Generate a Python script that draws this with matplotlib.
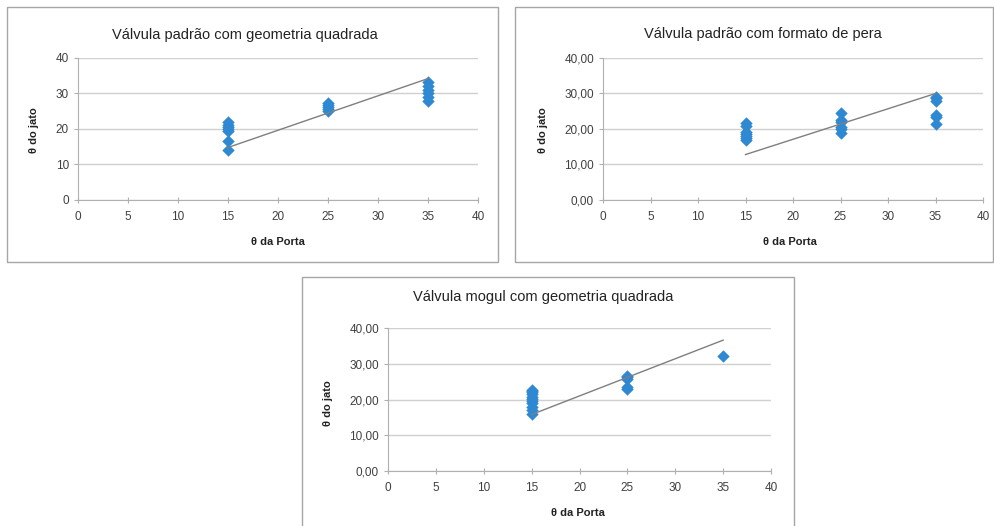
import matplotlib.pyplot as plt
from matplotlib.patches import Rectangle
from matplotlib.ticker import FuncFormatter

W, H = 994, 526

# panel 1 - valvula padrao, geometria quadrada
p1_x = [15] * 7 + [25] * 5 + [35] * 6
p1_y = [14, 16.7, 19.5, 20, 20.6, 21.2, 22, 25, 25.6, 26.2, 26.7, 27.2, 28, 29, 30, 31, 32, 33.2]
p1_trend_x = [15, 35]
p1_trend_y = [14.8, 34.2]

# panel 2 - valvula padrao, formato de pera
p2_x = [15] * 7 + [25] * 6 + [35] * 6
p2_y = [17, 17.5, 18, 18.6, 19.2, 20.8, 21.7, 19, 20, 20.6, 22, 22.6, 24.6, 21.5, 23.5, 24, 28, 28.6, 29]
p2_trend_x = [15, 35]
p2_trend_y = [12.8, 30.0]

# panel 3 - valvula mogul, geometria quadrada
p3_x = [15] * 11 + [25] * 5 + [35]
p3_y = [16, 17, 18, 19, 19.6, 20.2, 20.8, 21.4, 22, 22.6, 22.3, 23, 23.6, 25.6, 26.2, 26.7, 32.2]
p3_trend_x = [15, 35]
p3_trend_y = [15.8, 36.6]

titles = ['Válvula padrão com geometria quadrada',
          'Válvula padrão com formato de pera',
          'Válvula mogul com geometria quadrada']
x_ticks = [0, 5, 10, 15, 20, 25, 30, 35, 40]
y_ticks = [0, 10, 20, 30, 40]

plt.rcParams['font.family'] = ['Liberation Sans', 'DejaVu Sans']

fig = plt.figure(figsize=(W / 100, H / 100), dpi=100)
fig.patch.set_facecolor('white')


def fx(px):
    return px / W


def fy(py):
    return 1 - py / H


def box(x0, y0, x1, y1):
    fig.patches.append(Rectangle((fx(x0), fy(y1)), fx(x1) - fx(x0), fy(y0) - fy(y1),
                                 transform=fig.transFigure, fill=False,
                                 edgecolor='#a6a6a6', lw=1.0))


def panel(rect, xs, ys, tx, ty, title, comma, title_pos, ylab_pos, xlab_pos):
    l, t, r, b = rect
    ax = fig.add_axes([fx(l), fy(b), fx(r) - fx(l), fy(t) - fy(b)])
    ax.scatter(xs, ys, marker='D', s=40, color='#2e88d2', zorder=3, linewidths=0)
    ax.plot(tx, ty, color='#7f7f7f', lw=1.0, zorder=4)
    ax.set_xlim(0, 40)
    ax.set_ylim(0, 40)
    ax.set_xticks(x_ticks)
    ax.set_yticks(y_ticks)
    if comma:
        ax.yaxis.set_major_formatter(FuncFormatter(lambda v, p: f'{v:.2f}'.replace('.', ',')))
    ax.grid(axis='y', color='#d0d0d0', lw=1.0)
    ax.set_axisbelow(True)
    for s in ['top', 'right']:
        ax.spines[s].set_visible(False)
    for s in ['left', 'bottom']:
        ax.spines[s].set_color('#b0b0b0')
    ax.tick_params(axis='both', colors='#b0b0b0', labelcolor='#404040', labelsize=8.5, length=3)
    ax.tick_params(axis='x', direction='inout', length=4, pad=6)
    fig.text(fx(title_pos[0]), fy(title_pos[1]), title, ha='center', va='center',
             fontsize=10.5, color='#222222')
    fig.text(fx(ylab_pos[0]), fy(ylab_pos[1]), 'θ do jato', ha='center', va='center',
             rotation=90, fontsize=8, fontweight='bold', color='#222222')
    fig.text(fx(xlab_pos[0]), fy(xlab_pos[1]), 'θ da Porta', ha='center', va='center',
             fontsize=8, fontweight='bold', color='#222222')
    return ax


box(7, 7, 498, 262)
box(515, 7, 993, 262)
box(302, 277, 794, 530)

panel((78, 58, 478, 200), p1_x, p1_y, p1_trend_x, p1_trend_y, titles[0], False,
      (245, 35), (34, 130), (278, 242))
panel((603, 58, 983, 200), p2_x, p2_y, p2_trend_x, p2_trend_y, titles[1], True,
      (763, 34), (543, 130), (790, 242))
panel((388, 328, 771, 471), p3_x, p3_y, p3_trend_x, p3_trend_y, titles[2], True,
      (543, 297), (328, 403), (578, 513))

fig.savefig('out.png', dpi=100)
